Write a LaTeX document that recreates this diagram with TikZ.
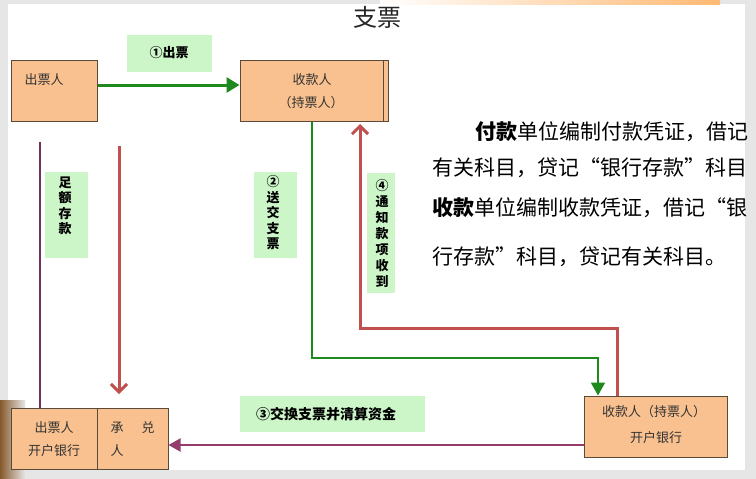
\documentclass[tikz,border=0pt]{standalone}
\usepackage{fontspec}
\newfontfamily\cjk{Noto Sans CJK SC}
\usetikzlibrary{arrows.meta}
\definecolor{peach}{RGB}{249,193,143}
\definecolor{boxline}{RGB}{90,74,58}
\definecolor{lblgreen}{RGB}{204,245,200}
\definecolor{arrgreen}{RGB}{30,138,30}
\definecolor{arrred}{RGB}{192,80,77}
\definecolor{arrpurple}{RGB}{150,60,108}
\definecolor{linepurple}{RGB}{115,50,92}
\definecolor{bggray}{RGB}{230,230,230}
\newcommand\qL{\makebox[1em][r]{“}}
\newcommand\qR{\makebox[1em][l]{”}}
\tikzset{
  boxnode/.style={draw=boxline, fill=peach, line width=1pt, inner sep=0pt},
  boxtext/.style={font=\cjk\fontsize{13}{15}\selectfont, text=black!80, inner sep=0pt},
  lblbox/.style={fill=lblgreen, draw=none, inner sep=0pt},
  lbltext/.style={font=\cjk\bfseries\fontsize{13}{15.5}\selectfont, align=center, inner sep=0pt},
  paratext/.style={font=\cjk\fontsize{21}{21}\selectfont, anchor=west, inner sep=0pt},
}
\begin{document}
\begin{tikzpicture}[x=1pt,y=-1pt]
\useasboundingbox (0,0) rectangle (756,479);
\fill[bggray] (0,0) rectangle (756,479);
\fill[white] (8,4) rectangle (745,470);
\shade[left color=white, right color=orange!55] (380,0) rectangle (720,4);
\shade[left color=brown!70!black, right color=bggray] (0,400) rectangle (25,479);

% title
\node[font=\cjk\fontsize{24}{24}\selectfont, text=black!85] (title) at (377,17) {支票};

% boxes
\node[boxnode, minimum width=86pt, minimum height=61pt] (payer) at (54,90.5) {};
\node[boxnode, minimum width=148pt, minimum height=61pt] (payee) at (314,90.5) {};
\draw[boxline, line width=0.8pt] (payee.north east) ++(-5,0) coordinate (pe1) -- (pe1 |- payee.south);
\node[boxnode, minimum width=86pt, minimum height=61pt] (payerbank) at (54,438.5) {};
\node[boxnode, minimum width=71pt, minimum height=61pt] (acceptor) at (132.5,438.5) {};
\node[boxnode, minimum width=143pt, minimum height=61pt] (payeebank) at (655.5,426.5) {};

% box texts
\node[boxtext] (t1) at (44,80) {出票人};
\node[boxtext] (t2) at (312,80) {收款人};
\node[boxtext] (t3) at (311,103) {（持票人）};
\node[boxtext] (t4) at (54,428) {出票人};
\node[boxtext] (t5) at (54,451) {开户银行};
\node[boxtext] (t6a) at (117,428) {承};
\node[boxtext] (t6b) at (148,428) {兑};
\node[boxtext] (t6c) at (117,451) {人};
\node[boxtext] (t7) at (654,412) {收款人（持票人）};
\node[boxtext] (t8) at (656,438) {开户银行};

% labels
\node[lblbox, minimum width=85pt, minimum height=37pt] (l1) at (169.5,53.5) {};
\node[lbltext] (l1t) at (169,53) {①出票};
\node[lblbox, minimum width=43pt, minimum height=86pt] (l2) at (66.5,215) {};
\node[lbltext] (l2t) at (65,206) {足\\额\\存\\款};
\node[lblbox, minimum width=43pt, minimum height=86pt] (l3) at (275.5,215) {};
\node[lbltext] (l3t) at (273,213) {②\\送\\交\\支\\票};
\node[lblbox, minimum width=28pt, minimum height=120pt] (l4) at (381,233) {};
\node[lbltext, font=\cjk\bfseries\fontsize{13}{16}\selectfont] (l4t) at (382,233) {④\\通\\知\\款\\项\\收\\到};
\node[lblbox, minimum width=185pt, minimum height=36pt] (l5) at (332.5,414) {};
\node[lbltext, font=\cjk\bfseries\fontsize{14}{15}\selectfont] (l5t) at (326,414) {③交换支票并清算资金};

% connectors
\draw[arrgreen, line width=3pt, -{Triangle[length=13pt,width=15pt]}] (payer.east |- 0,85) -- (payee.west |- 0,85);
\coordinate (g1) at (312,358);
\coordinate (g2) at (598,358);
\draw[arrgreen, line width=2pt, -{Triangle[length=13pt,width=14pt]}] (payee.south -| g1) -- (g1) -- (g2) -- (payeebank.north -| g2);
\coordinate (r1) at (617,328);
\coordinate (r2) at (360,328);
\draw[arrred, line width=3pt, -{Straight Barb[length=8pt,width=16pt,line width=3pt]}] (payeebank.north -| r1) -- (r1) -- (r2) -- (360,124) coordinate (r3);
\coordinate (rd1) at (119,146);
\coordinate (rd2) at (119,394);
\draw[arrred, line width=3pt, -{Straight Barb[length=8pt,width=16pt,line width=3pt]}] (rd1) -- (rd2);
\coordinate (pp) at (168,445);
\draw[arrpurple, line width=2pt, -{Triangle[length=12pt,width=13pt]}] (payeebank.west |- pp) -- (acceptor.east |- pp);
\coordinate (pv) at (40,142);
\draw[linepurple, line width=2pt] (payerbank.north -| pv) -- (pv);

% paragraph
\begin{scope}
\clip (0,0) rectangle (753,479);
\node[paratext] (p1) at (475,132) {{\bfseries 付款}单位编制付款凭证，借记};
\node[paratext] (p2) at (432,168) {有关科目，贷记\qL 银行存款\qR 科目};
\node[paratext] (p3) at (432,208) {{\bfseries 收款}单位编制收款凭证，借记\qL 银};
\node[paratext] (p4) at (432,257) {行存款\qR 科目，贷记有关科目。};
\end{scope}
\end{tikzpicture}
\end{document}
